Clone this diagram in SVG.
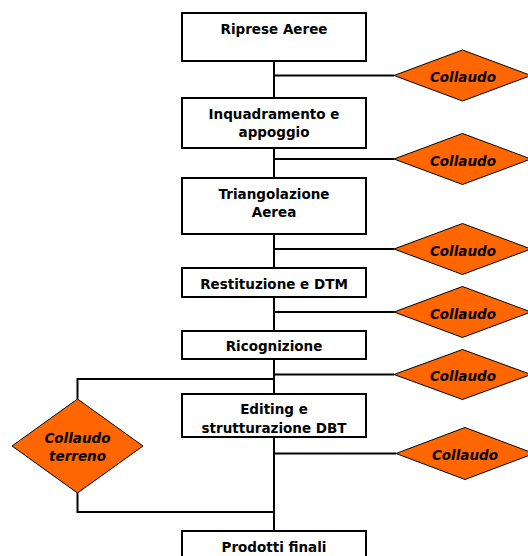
<svg xmlns="http://www.w3.org/2000/svg" width="528" height="556" viewBox="0 0 528 556">
<style>
.box{fill:#fff;stroke:#000;stroke-width:2}
.dia{fill:#ff6600;stroke:#000;stroke-width:1}
.ln{fill:none;stroke:#000;stroke-width:2}
.t{font-family:"DejaVu Sans",Verdana,sans-serif;font-weight:bold;font-size:13.5px;text-anchor:middle;fill:#000}
.ti{font-family:"DejaVu Sans",Verdana,sans-serif;font-weight:bold;font-style:italic;font-size:13.5px;text-anchor:middle;fill:#000}
</style>
<g id="connectors">
<path class="ln" d="M274 61V98M274 148V178M274 234V268M274 297V331M274 359V394M274 437V531"/>
<path class="ln" d="M274 75.5H394M274 159H394M274 249H394M274 312H394M274 374.5H394M274 453.5H396"/>
<path class="ln" d="M274 379H77.5V399M77.5 493V512H274"/>
</g>
<g id="n1"><rect class="box" x="182" y="13" width="184" height="48"/><text class="t" x="274" y="33.5">Riprese Aeree</text></g>
<g id="n2"><rect class="box" x="182" y="98" width="184" height="50"/><text class="t" x="274" y="118.5">Inquadramento e</text><text class="t" x="274" y="137">appoggio</text></g>
<g id="n3"><rect class="box" x="182" y="178" width="184" height="56"/><text class="t" x="274" y="198.5">Triangolazione</text><text class="t" x="274" y="217">Aerea</text></g>
<g id="n4"><rect class="box" x="182" y="268" width="184" height="29"/><text class="t" x="274" y="289">Restituzione e DTM</text></g>
<g id="n5"><rect class="box" x="182" y="331" width="184" height="28"/><text class="t" x="274" y="351">Ricognizione</text></g>
<g id="n6"><rect class="box" x="182" y="394" width="184" height="43"/><text class="t" x="274" y="414">Editing e</text><text class="t" x="274" y="432.5">strutturazione DBT</text></g>
<g id="n7"><rect class="box" x="182" y="531" width="184" height="40"/><text class="t" x="274" y="552">Prodotti finali</text></g>
<g id="d1"><polygon class="dia" points="394,75.5 462.5,50 531,75.5 462.5,101"/><text class="ti" x="463" y="82">Collaudo</text></g>
<g id="d2"><polygon class="dia" points="394,159 462.5,133.5 531,159 462.5,184.5"/><text class="ti" x="463" y="165.5">Collaudo</text></g>
<g id="d3"><polygon class="dia" points="394,249 462.5,223.5 531,249 462.5,274.5"/><text class="ti" x="463" y="255.5">Collaudo</text></g>
<g id="d4"><polygon class="dia" points="394,312 462.5,286.5 531,312 462.5,337.5"/><text class="ti" x="463" y="318.5">Collaudo</text></g>
<g id="d5"><polygon class="dia" points="394,374.5 462.5,349.5 531,374.5 462.5,399.5"/><text class="ti" x="463" y="381">Collaudo</text></g>
<g id="d6"><polygon class="dia" points="396,453.5 465,427.5 534,453.5 465,479.5"/><text class="ti" x="465" y="460">Collaudo</text></g>
<g id="d7"><polygon class="dia" points="12,446 77.5,399 143,446 77.5,493"/><text class="ti" x="77.5" y="442.5">Collaudo</text><text class="ti" x="77.5" y="460.5">terreno</text></g>
</svg>
